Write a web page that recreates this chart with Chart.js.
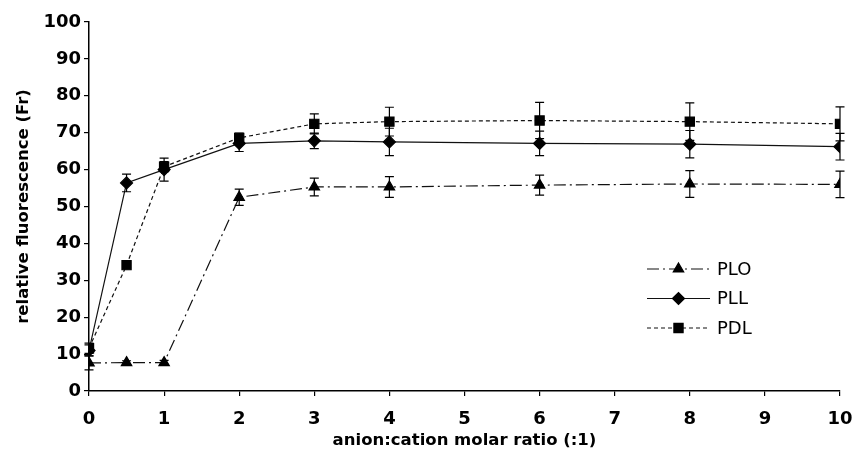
<!DOCTYPE html>
<html>
<head>
<meta charset="utf-8">
<script src="https://cdn.jsdelivr.net/npm/chart.js@4.4.0/dist/chart.umd.min.js"></script>
<style>
  html, body { margin: 0; padding: 0; background: #fff; }
  #wrap { width: 852px; height: 461px; }
</style>
</head>
<body>
<div id="wrap"><canvas id="chart"></canvas></div>
<script>
// values
const ratios = [0, 0.5, 1, 2, 3, 4, 6, 8, 10];
const seriesNames = ['PLO', 'PLL', 'PDL'];
const ploValues = [7.6, 7.7, 7.7, 52.5, 55.3, 55.3, 55.8, 56.1, 56.0];
const ploErrors = [1.9, 0.5, 0.6, 2.2, 2.4, 2.8, 2.7, 3.6, 3.6];
const pllValues = [11.0, 56.4, 60.0, 67.1, 67.8, 67.5, 67.1, 66.9, 66.2];
const pllErrors = [1.5, 2.4, 3.1, 2.2, 2.1, 3.7, 3.3, 3.7, 3.6];
const pdlValues = [11.6, 34.1, 60.8, 68.6, 72.4, 73.0, 73.3, 73.0, 72.4];
const pdlErrors = [1.4, 0.6, 1.4, 1.3, 2.7, 3.9, 4.9, 5.1, 4.6];
const xTitle = 'anion:cation molar ratio (:1)';
const yTitle = 'relative fluorescence (Fr)';

const tickFont = { family: "'DejaVu Sans', sans-serif", size: 18, weight: 'bold' };
const titleFont = { family: "'DejaVu Sans', sans-serif", size: 16.5, weight: 'bold' };

function points(values) {
    return ratios.map((r, i) => ({ x: r, y: values[i] }));
}

// vertical error bars with caps, drawn from each dataset's errors array
const errorBars = {
    id: 'errorBars',
    afterDatasetsDraw(chart, args, opts) {
        const { ctx, scales: { x, y } } = chart;
        ctx.save();
        ctx.strokeStyle = opts.color;
        ctx.lineWidth = opts.width;
        chart.data.datasets.forEach((ds, i) => {
            if (!chart.isDatasetVisible(i)) return;
            ds.errors.forEach((err, j) => {
                const pt = ds.data[j];
                const px = x.getPixelForValue(pt.x);
                const top = y.getPixelForValue(pt.y + err);
                const bot = y.getPixelForValue(pt.y - err);
                ctx.beginPath();
                ctx.moveTo(px, top); ctx.lineTo(px, bot);
                ctx.moveTo(px - opts.cap, top); ctx.lineTo(px + opts.cap, top);
                ctx.moveTo(px - opts.cap, bot); ctx.lineTo(px + opts.cap, bot);
                ctx.stroke();
            });
        });
        ctx.restore();
    }
};

// legend with line sample + marker, like the original
const lineLegend = {
    id: 'lineLegend',
    afterDraw(chart, args, opts) {
        const ctx = chart.ctx;
        ctx.save();
        chart.data.datasets.forEach((ds, i) => {
            const yy = opts.y + i * opts.rowGap;
            ctx.strokeStyle = ds.borderColor;
            ctx.lineWidth = ds.borderWidth;
            ctx.setLineDash(ds.borderDash || []);
            ctx.beginPath();
            ctx.moveTo(opts.x, yy);
            ctx.lineTo(opts.x + opts.lineLength, yy);
            ctx.stroke();
            ctx.setLineDash([]);
            ctx.fillStyle = ds.pointBackgroundColor;
            ctx.strokeStyle = ds.pointBorderColor;
            Chart.helpers.drawPoint(ctx, {
                pointStyle: ds.pointStyle, rotation: 0,
                radius: ds.pointRadius, borderWidth: 1
            }, opts.x + opts.lineLength / 2, yy);
            ctx.fillStyle = '#000';
            ctx.font = opts.font;
            ctx.textBaseline = 'middle';
            ctx.fillText(ds.label, opts.x + opts.lineLength + 7, yy + 1);
        });
        ctx.restore();
    }
};

const lineColor = '#111';

new Chart(document.getElementById('chart'), {
    type: 'line',
    data: {
        datasets: [
            {
                label: seriesNames[0], data: points(ploValues), errors: ploErrors,
                borderColor: lineColor, borderWidth: 1.2, borderDash: [12, 4, 2, 4],
                pointStyle: 'triangle', pointRadius: 6,
                pointBackgroundColor: '#000', pointBorderColor: '#000'
            },
            {
                label: seriesNames[1], data: points(pllValues), errors: pllErrors,
                borderColor: lineColor, borderWidth: 1.2,
                pointStyle: 'rectRot', pointRadius: 6,
                pointBackgroundColor: '#000', pointBorderColor: '#000'
            },
            {
                label: seriesNames[2], data: points(pdlValues), errors: pdlErrors,
                borderColor: lineColor, borderWidth: 1.2, borderDash: [4, 3],
                pointStyle: 'rect', pointRadius: 6.5,
                pointBackgroundColor: '#000', pointBorderColor: '#000'
            }
        ]
    },
    options: {
        responsive: true,
        maintainAspectRatio: false,
        animation: false,
        layout: { padding: { top: 22, right: 12, left: 0, bottom: 0 } },
        plugins: {
            legend: { display: false },
            tooltip: { enabled: false },
            errorBars: { color: '#000', width: 1.2, cap: 4.5 },
            lineLegend: { x: 647, y: 269, rowGap: 29.5, lineLength: 63, font: "18px 'DejaVu Sans', sans-serif" }
        },
        scales: {
            x: {
                type: 'linear', min: 0, max: 10,
                border: { color: '#000', width: 1.5 },
                grid: { drawOnChartArea: false, drawTicks: true, tickLength: 5, color: '#000', lineWidth: 1.2 },
                ticks: { stepSize: 1, color: '#000', font: tickFont, padding: 13, maxRotation: 0 },
                title: { display: true, text: xTitle, color: '#000', font: titleFont, padding: { top: 0, bottom: 10 } },
                afterFit(scale) {
                    scale.height = 70;
                    scale.paddingRight = 12;
                    scale.paddingLeft = 0;
                }
            },
            y: {
                min: 0, max: 100,
                border: { color: '#000', width: 1.5 },
                grid: { drawOnChartArea: false, drawTicks: true, tickLength: 5, color: '#000', lineWidth: 1.2 },
                ticks: { stepSize: 10, color: '#000', font: tickFont, padding: 3 },
                title: { display: true, text: yTitle, color: '#000', font: titleFont, padding: { top: 14, bottom: 0 } },
                afterFit(scale) { scale.width = 89; }
            }
        }
    },
    plugins: [errorBars, lineLegend]
});
</script>
</body>
</html>
